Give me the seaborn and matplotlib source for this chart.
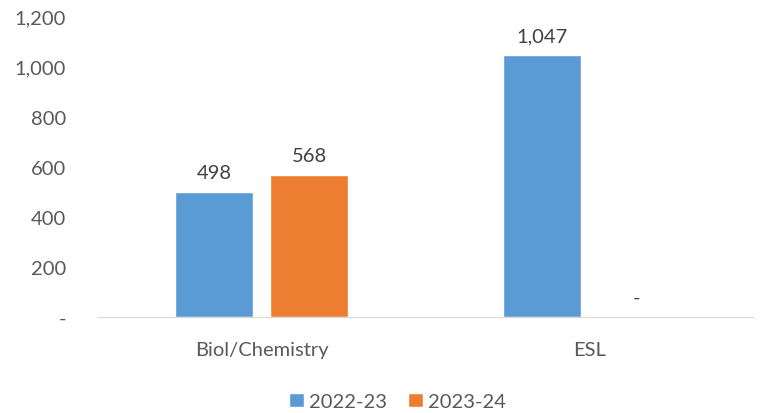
import pandas as pd
import seaborn as sns
import matplotlib.pyplot as plt

# data
subjects = ["Biol/Chemistry", "ESL"]
years = ["2022-23", "2023-24"]
values_2022 = [498, 1047]
values_2023 = [568, 0]

dados = pd.DataFrame({
    "Subject": subjects * 2,
    "Year": [years[0]] * 2 + [years[1]] * 2,
    "Value": values_2022 + values_2023,
})

sns.set_style("white")
plt.rcParams["font.family"] = ["Lato", "DejaVu Sans"]
txt = "#595959"

fig = plt.figure(figsize=(7.6, 4.14), dpi=100)
ax = fig.add_axes([0.129, 0.232, 0.862, 0.725])

sns.barplot(data=dados, x="Subject", y="Value", hue="Year",
            palette=["#5B9BD5", "#ED7D31"], width=0.58, gap=0.18,
            saturation=1, ax=ax)

for cont in ax.containers:
    labels = [f"{v:,.0f}" if v > 0 else "-" for v in cont.datavalues]
    ax.bar_label(cont, labels=labels, padding=8, fontsize=14.5, color="#404040")

ax.set_xlim(-0.5, 1.5)
ax.set_ylim(0, 1200)
ax.set_yticks(range(0, 1201, 200))
ax.set_yticklabels(["-"] + [f"{v:,}" for v in range(200, 1201, 200)])
ax.set_xlabel("")
ax.set_ylabel("")
ax.tick_params(axis="both", length=0, labelsize=14.5, colors=txt)
ax.tick_params(axis="y", pad=23)
ax.tick_params(axis="x", pad=17)
for s in ["top", "right", "left"]:
    ax.spines[s].set_visible(False)
ax.spines["bottom"].set_color("#D9D9D9")

ax.legend(loc="center", bbox_to_anchor=(0.523, 0.028),
          bbox_transform=fig.transFigure, ncol=2,
          frameon=False, fontsize=14.5, handlelength=0.75, handleheight=0.75,
          handletextpad=0.25, columnspacing=1.0, labelcolor=txt,
          borderaxespad=0, borderpad=0)

plt.savefig("out.png", dpi=100)
